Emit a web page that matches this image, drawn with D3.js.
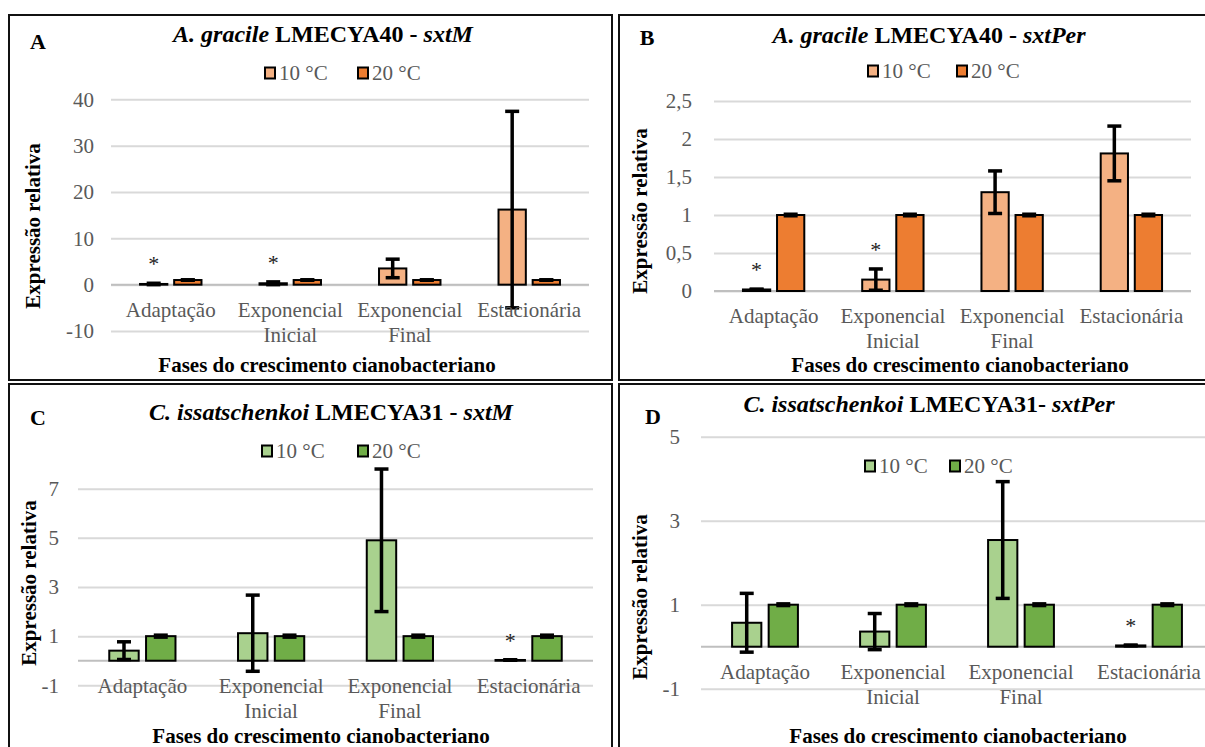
<!DOCTYPE html>
<html>
<head>
<meta charset="utf-8">
<script src="https://cdn.jsdelivr.net/npm/d3@7"></script>
<style>
  body { margin: 0; background: #fff; }
  svg { display: block; font-family: "Liberation Serif", "Times New Roman", serif; }
</style>
</head>
<body>
<div id="wrapper"></div>
<script>
// data
const categories = ['Adaptação', 'Exponencial Inicial', 'Exponencial Final', 'Estacionária'];
const seriesNames = ['10 °C', '20 °C'];

// A - A. gracile sxtM
const agracileSxtM10 = [0.15, 0.3, 3.5, 16.2];
const agracileSxtM10Err = [0.15, 0.3, 2.0, 21.2];
const agracileSxtM20 = [1, 1, 1, 1];
const agracileSxtM20Err = [0.05, 0.05, 0.05, 0.05];
const agracileSxtMStars = ['Adaptação', 'Exponencial Inicial'];
const agracileSxtMTicks = [-10, 0, 10, 20, 30, 40];

// B - A. gracile sxtPer
const agracileSxtPer10 = [0.02, 0.15, 1.30, 1.81];
const agracileSxtPer10Err = [0.005, 0.14, 0.28, 0.36];
const agracileSxtPer20 = [1, 1, 1, 1];
const agracileSxtPer20Err = [0.01, 0.01, 0.01, 0.01];
const agracileSxtPerStars = ['Adaptação', 'Exponencial Inicial'];
const agracileSxtPerTicks = [0, 0.5, 1, 1.5, 2, 2.5];

// C - C. issatschenkoi sxtM
const cissSxtM10 = [0.41, 1.12, 4.9, 0.03];
const cissSxtM10Err = [0.36, 1.55, 2.9, 0.01];
const cissSxtM20 = [1, 1, 1, 1];
const cissSxtM20Err = [0.04, 0.04, 0.04, 0.04];
const cissSxtMStars = ['Estacionária'];
const cissSxtMTicks = [-1, 1, 3, 5, 7];

// D - C. issatschenkoi sxtPer
const cissSxtPer10 = [0.57, 0.36, 2.54, 0.03];
const cissSxtPer10Err = [0.7, 0.43, 1.39, 0.01];
const cissSxtPer20 = [1, 1, 1, 1];
const cissSxtPer20Err = [0.02, 0.02, 0.02, 0.02];
const cissSxtPerStars = ['Estacionária'];
const cissSxtPerTicks = [-1, 1, 3, 5];

const orange = ['#F4B183', '#ED7D31'];
const green = ['#A9D18E', '#70AD47'];

const ptLocale = d3.formatLocale({
    decimal: ',', thousands: '.', grouping: [3], currency: ['', ''], minus: '-'
});
const tickFormat = ptLocale.format('.2~f');

const svg = d3.select('#wrapper').append('svg')
    .attr('width', 1205)
    .attr('height', 747);

const panels = [
    {
        letter: 'A', frame: [9, 15, 603, 365], letterPos: [38, 49],
        title: [['A. gracile', true], [' LMECYA40 - ', false], ['sxtM', true]],
        titlePos: [323, 42], legendX: [265, 358], legendY: 73,
        x0: 111, x1: 589, yDomain: [-10, 40], yRange: [331, 99.3],
        ticks: agracileSxtMTicks, tickPad: 17,
        xTitle: [327, 372], yTitle: [33, 226],
        colors: orange,
        v10: agracileSxtM10, e10: agracileSxtM10Err, v20: agracileSxtM20, e20: agracileSxtM20Err,
        stars: agracileSxtMStars
    },
    {
        letter: 'B', frame: [619, 15, 600, 365], letterPos: [647, 45],
        title: [['A. gracile', true], [' LMECYA40 - ', false], ['sxtPer', true]],
        titlePos: [929, 43], legendX: [868, 957], legendY: 71,
        x0: 714, x1: 1191, yDomain: [0, 2.5], yRange: [291, 101],
        ticks: agracileSxtPerTicks, tickPad: 22,
        xTitle: [960, 372], yTitle: [640, 211],
        colors: orange,
        v10: agracileSxtPer10, e10: agracileSxtPer10Err, v20: agracileSxtPer20, e20: agracileSxtPer20Err,
        stars: agracileSxtPerStars
    },
    {
        letter: 'C', frame: [9, 384, 603, 370], letterPos: [38, 425],
        title: [['C. issatschenkoi', true], [' LMECYA31 - ', false], ['sxtM', true]],
        titlePos: [331, 420], legendX: [262, 358], legendY: 451,
        x0: 78, x1: 593, yDomain: [-1, 7], yRange: [685.3, 488.7],
        ticks: cissSxtMTicks, tickPad: 19,
        xTitle: [321, 743], yTitle: [29, 583],
        colors: green,
        v10: cissSxtM10, e10: cissSxtM10Err, v20: cissSxtM20, e20: cissSxtM20Err,
        stars: cissSxtMStars
    },
    {
        letter: 'D', frame: [619, 384, 600, 370], letterPos: [653, 424],
        title: [['C. issatschenkoi', true], [' LMECYA31- ', false], ['sxtPer', true]],
        titlePos: [929, 412], legendX: [865, 950], legendY: 466,
        x0: 701, x1: 1213, yDomain: [-1, 5], yRange: [688.7, 436.7],
        ticks: cissSxtPerTicks, tickPad: 21,
        xTitle: [958, 743], yTitle: [640, 597],
        colors: green,
        v10: cissSxtPer10, e10: cissSxtPer10Err, v20: cissSxtPer20, e20: cissSxtPer20Err,
        stars: cissSxtPerStars
    }
];

function drawPanel(p) {
    const g = svg.append('g');

    // frame
    g.append('rect')
        .attr('x', p.frame[0]).attr('y', p.frame[1])
        .attr('width', p.frame[2]).attr('height', p.frame[3])
        .attr('fill', 'none')
        .attr('stroke', '#111')
        .attr('stroke-width', 2);

    const xScale = d3.scaleBand()
        .domain(categories)
        .range([p.x0, p.x1]);

    // two bars per category
    const xSub = d3.scaleBand()
        .domain(seriesNames)
        .range([0, xScale.bandwidth()])
        .paddingInner(0.2)
        .paddingOuter(0.85);

    const yScale = d3.scaleLinear()
        .domain(p.yDomain)
        .range(p.yRange);

    // gridlines + tick labels
    const yAxisGenerator = d3.axisLeft(yScale)
        .tickValues(p.ticks)
        .tickFormat(tickFormat)
        .tickSize(-(p.x1 - p.x0))
        .tickPadding(p.tickPad);

    const yAxis = g.append('g')
        .attr('transform', `translate(${p.x0}, 0)`)
        .call(yAxisGenerator);
    yAxis.select('.domain').remove();
    yAxis.selectAll('line')
        .attr('stroke', '#d9d9d9')
        .attr('stroke-width', 2);
    yAxis.selectAll('text')
        .attr('fill', '#595959')
        .style('font-size', '21px')
        .style('font-family', '"Liberation Serif", serif');

    // zero line
    g.append('line')
        .attr('x1', p.x0).attr('x2', p.x1)
        .attr('y1', yScale(0)).attr('y2', yScale(0))
        .attr('stroke', '#bfbfbf')
        .attr('stroke-width', 2);

    const rows = [];
    categories.forEach((c, i) => {
        rows.push({ cat: c, s: seriesNames[0], v: p.v10[i], e: p.e10[i], color: p.colors[0] });
        rows.push({ cat: c, s: seriesNames[1], v: p.v20[i], e: p.e20[i], color: p.colors[1] });
    });

    const barX = d => xScale(d.cat) + xSub(d.s);
    const barMid = d => barX(d) + xSub.bandwidth() / 2;

    g.selectAll('rect.bar').data(rows).enter().append('rect')
        .attr('class', 'bar')
        .attr('x', barX)
        .attr('width', xSub.bandwidth())
        .attr('y', d => yScale(Math.max(0, d.v)))
        .attr('height', d => Math.abs(yScale(d.v) - yScale(0)))
        .attr('fill', d => d.color)
        .attr('stroke', '#000')
        .attr('stroke-width', 2);

    // error bars
    const err = g.selectAll('g.err').data(rows).enter().append('g')
        .attr('class', 'err')
        .attr('stroke', '#000')
        .attr('stroke-width', 3.5);
    err.append('line')
        .attr('x1', barMid).attr('x2', barMid)
        .attr('y1', d => yScale(d.v + d.e))
        .attr('y2', d => yScale(d.v - d.e));
    err.append('line')
        .attr('x1', d => barMid(d) - 7).attr('x2', d => barMid(d) + 7)
        .attr('y1', d => yScale(d.v + d.e))
        .attr('y2', d => yScale(d.v + d.e));
    err.append('line')
        .attr('x1', d => barMid(d) - 7).attr('x2', d => barMid(d) + 7)
        .attr('y1', d => yScale(d.v - d.e))
        .attr('y2', d => yScale(d.v - d.e));

    // significance marks
    g.selectAll('text.star')
        .data(rows.filter(d => d.s === seriesNames[0] && p.stars.includes(d.cat)))
        .enter().append('text')
        .attr('class', 'star')
        .attr('x', barMid)
        .attr('y', d => yScale(d.v + d.e) - 12)
        .attr('text-anchor', 'middle')
        .attr('font-size', 22)
        .attr('fill', '#222')
        .text('*');

    // category labels
    const catLabels = g.selectAll('text.cat').data(categories).enter().append('text')
        .attr('class', 'cat')
        .attr('text-anchor', 'middle')
        .attr('font-size', 21)
        .attr('fill', '#595959');
    catLabels.each(function(c) {
        const words = c.split(' ');
        const cx = xScale(c) + xScale.bandwidth() / 2;
        words.forEach((w, i) => {
            d3.select(this).append('tspan')
                .attr('x', cx)
                .attr('y', yScale(0) + 32 + i * 25)
                .text(w);
        });
    });

    // title
    const title = g.append('text')
        .attr('x', p.titlePos[0]).attr('y', p.titlePos[1])
        .attr('text-anchor', 'middle')
        .attr('font-size', 24)
        .attr('font-weight', 'bold');
    p.title.forEach(([t, it]) => {
        title.append('tspan')
            .attr('font-style', it ? 'italic' : 'normal')
            .text(t);
    });

    g.append('text')
        .attr('x', p.letterPos[0]).attr('y', p.letterPos[1])
        .attr('text-anchor', 'middle')
        .attr('font-size', 22)
        .attr('font-weight', 'bold')
        .text(p.letter);

    // legend
    seriesNames.forEach((s, i) => {
        g.append('rect')
            .attr('x', p.legendX[i]).attr('y', p.legendY - 5.5)
            .attr('width', 10).attr('height', 11)
            .attr('fill', p.colors[i])
            .attr('stroke', '#000')
            .attr('stroke-width', 2);
        g.append('text')
            .attr('x', p.legendX[i] + 14).attr('y', p.legendY + 7)
            .attr('font-size', 21)
            .attr('fill', '#595959')
            .text(s);
    });

    // axis titles
    g.append('text')
        .attr('x', p.xTitle[0]).attr('y', p.xTitle[1])
        .attr('text-anchor', 'middle')
        .attr('font-size', 21)
        .attr('font-weight', 'bold')
        .text('Fases do crescimento cianobacteriano');

    g.append('text')
        .attr('transform', `translate(${p.yTitle[0]}, ${p.yTitle[1]}) rotate(-90)`)
        .attr('text-anchor', 'middle')
        .attr('dominant-baseline', 'central')
        .attr('font-size', 21)
        .attr('font-weight', 'bold')
        .text('Expressão relativa');
}

panels.forEach(drawPanel);
</script>
</body>
</html>
